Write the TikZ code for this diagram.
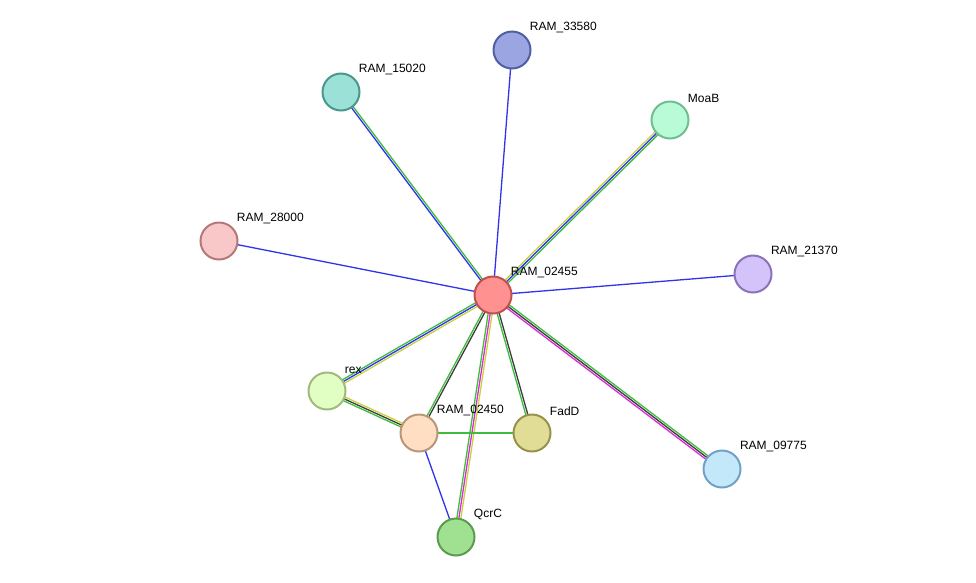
\documentclass[tikz,border=0pt]{standalone}
\usepackage{fontspec}
\setmainfont{Liberation Sans}
\usetikzlibrary{calc}
\usetikzlibrary{backgrounds}
\definecolor{lnkgreen}{RGB}{60, 190, 60}
\definecolor{lnkblue}{RGB}{50, 50, 235}
\definecolor{lnkyellow}{RGB}{200, 210, 60}
\definecolor{lnkblack}{RGB}{60, 60, 60}
\definecolor{lnkpink}{RGB}{220, 40, 220}
\definecolor{fA}{RGB}{255,145,145}\definecolor{dA}{RGB}{190,80,80}
\definecolor{fB}{RGB}{155,165,225}\definecolor{dB}{RGB}{80,95,160}
\definecolor{fC}{RGB}{155,225,215}\definecolor{dC}{RGB}{75,150,140}
\definecolor{fD}{RGB}{185,250,215}\definecolor{dD}{RGB}{110,190,145}
\definecolor{fE}{RGB}{248,200,200}\definecolor{dE}{RGB}{180,120,120}
\definecolor{fF}{RGB}{210,195,250}\definecolor{dF}{RGB}{140,115,185}
\definecolor{fG}{RGB}{225,255,195}\definecolor{dG}{RGB}{160,185,125}
\definecolor{fH}{RGB}{255,222,195}\definecolor{dH}{RGB}{185,150,120}
\definecolor{fI}{RGB}{225,220,150}\definecolor{dI}{RGB}{150,145,75}
\definecolor{fJ}{RGB}{195,232,250}\definecolor{dJ}{RGB}{115,160,195}
\definecolor{fK}{RGB}{160,225,145}\definecolor{dK}{RGB}{90,155,80}
\tikzset{
  prot/.style={circle, minimum size=37pt, inner sep=0pt, line width=2pt, fill=f#1, draw=d#1},
  tag/.style={anchor=south west, inner sep=1pt, font=\fontsize{12}{14}\selectfont},
}
% one strand per colour/offset pair
\newcommand\link[3]{%
  \foreach \col/\off in {#3} {%
    \draw[\col, line width=1.3pt] ($(#1)!\off*2pt!90:(#2)$) -- ($(#2)!\off*2pt!-90:(#1)$);
  }%
}
\begin{document}
\begin{tikzpicture}[x=1pt, y=-1pt]
\useasboundingbox (0,0) rectangle (976,582);
\node[prot=A] (n02455) at (493,295) {};
\node[prot=B] (n33580) at (512,50) {};
\node[prot=C] (n15020) at (341,92) {};
\node[prot=D] (nMoaB) at (670,120) {};
\node[prot=E] (n28000) at (219,241) {};
\node[prot=F] (n21370) at (753,274) {};
\node[prot=G] (nrex) at (327,391) {};
\node[prot=H] (n02450) at (419,433) {};
\node[prot=I] (nFadD) at (532,433) {};
\node[prot=J] (n09775) at (722,469) {};
\node[prot=K] (nQcrC) at (456,537) {};
\foreach \n/\t in {n02455/RAM\_02455, n33580/RAM\_33580, n15020/RAM\_15020, nMoaB/MoaB,
  n28000/RAM\_28000, n21370/RAM\_21370, nrex/rex, n02450/RAM\_02450, nFadD/FadD,
  n09775/RAM\_09775, nQcrC/QcrC}
  \node[tag] (\n-t) at ($(\n.north east)+(3,-2)$) {\t};
\begin{scope}[on background layer]
\link{n02455}{n33580}{lnkblue/0}
\link{n02455}{n15020}{lnkgreen/-0.5, lnkblue/0.5}
\link{n02455}{nMoaB}{lnkgreen/-1, lnkblue/0, lnkyellow/1}
\link{n02455}{n28000}{lnkblue/0}
\link{n02455}{n21370}{lnkblue/0}
\link{n02455}{nrex}{lnkgreen/-1, lnkblue/0, lnkyellow/1}
\link{n02455}{n02450}{lnkgreen/-0.5, lnkblack/0.5}
\link{n02455}{nQcrC}{lnkgreen/-1, lnkpink/0, lnkyellow/1}
\link{n02455}{nFadD}{lnkgreen/-0.5, lnkblack/0.5}
\link{n02455}{n09775}{lnkgreen/1, lnkblack/0, lnkpink/-1}
\link{nrex}{n02450}{lnkgreen/-1, lnkblack/0, lnkyellow/1}
\link{n02450}{nFadD}{lnkgreen/0}
\link{n02450}{nQcrC}{lnkblue/0}
\end{scope}
\end{tikzpicture}
\end{document}
